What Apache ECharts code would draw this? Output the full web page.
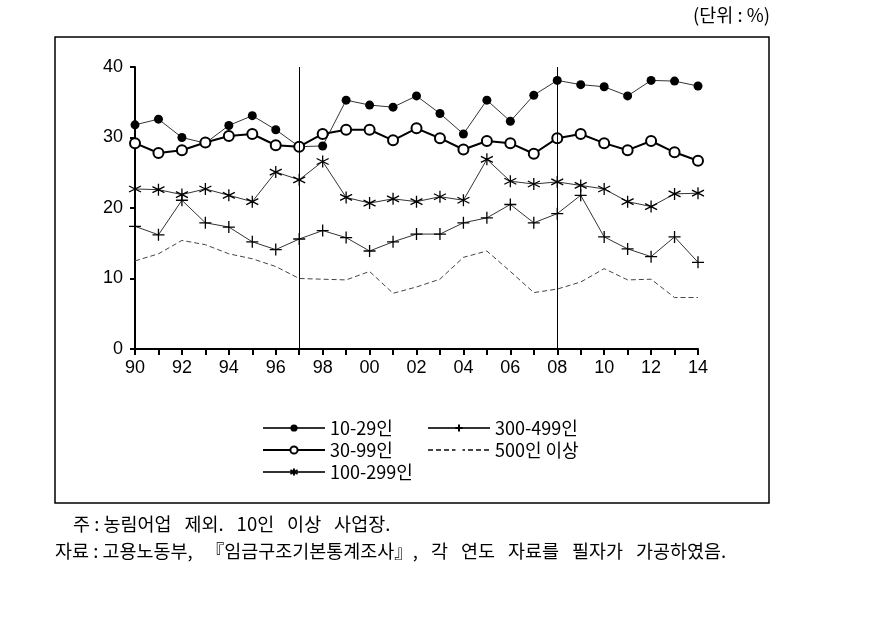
<!DOCTYPE html>
<html>
<head>
<meta charset="utf-8">
<script src="https://cdn.jsdelivr.net/npm/echarts@6/dist/echarts.min.js"></script>
<style>
  html, body { margin: 0; padding: 0; background: #fff; }
  #chart { width: 895px; height: 620px; }
</style>
</head>
<body>
<div id="chart"></div>
<script>
// 연도 (1990 ~ 2014)
var years = ['1990','1991','1992','1993','1994','1995','1996','1997','1998','1999','2000','2001','2002',
             '2003','2004','2005','2006','2007','2008','2009','2010','2011','2012','2013','2014']
var s10_29   = [31.8,32.6,30.0,29.2,31.7,33.1,31.1,28.7,28.8,35.3,34.6,34.3,35.9,33.4,30.5,35.3,32.3,36.0,38.1,37.5,37.2,35.9,38.1,38.0,37.3]
var s30_99   = [29.2,27.8,28.2,29.3,30.2,30.5,28.9,28.7,30.5,31.1,31.1,29.6,31.3,29.9,28.3,29.5,29.2,27.7,29.9,30.5,29.2,28.2,29.5,27.9,26.7]
var s100_299 = [22.7,22.6,21.9,22.7,21.8,20.9,25.1,24.0,26.6,21.5,20.7,21.3,20.9,21.6,21.1,26.9,23.8,23.4,23.7,23.2,22.7,20.9,20.2,22.0,22.1]
var s300_499 = [17.4,16.2,21.1,17.9,17.3,15.2,14.1,15.6,16.8,15.8,13.9,15.2,16.3,16.3,17.9,18.6,20.5,17.9,19.2,21.8,15.9,14.2,13.1,15.9,12.3]
var s500     = [12.5,13.5,15.4,14.8,13.5,12.8,11.7,10.0,9.9,9.8,11.0,7.9,8.8,9.9,13.0,13.9,11.0,8.0,8.5,9.5,11.4,9.8,9.9,7.3,7.3]
var markYears = ['1997','2008']

var asterisk = 'path://M5,0L5,10M0.67,2.5L9.33,7.5M0.67,7.5L9.33,2.5'
var plus = 'path://M5,0L5,10M0,5L10,5'

// 넓은 띄어쓰기 (원본 명조체 간격 흉내)
var sp = '\u2002\u2009'
var note1 = '주 : 농림어업' + sp + '제외.' + sp + '10인' + sp + '이상' + sp + '사업장.'
var note2 = '자료 : 고용노동부,' + sp + '『임금구조기본통계조사』,' + sp + '각' + sp + '연도' + sp + '자료를' + sp + '필자가' + sp + '가공하였음.'

var myChart = echarts.init(document.getElementById('chart'))
var legendText = { fontFamily: 'Noto Sans CJK KR', fontSize: 18, color: '#000' }
var noteFont = '18.5px "Noto Sans CJK KR"'

myChart.setOption({
  animation: false,
  grid: { left: 135, top: 67, right: 197, bottom: 271 },
  graphic: [
    { type: 'rect', shape: { x: 55, y: 37, width: 714, height: 466 },
      style: { fill: 'none', stroke: '#000', lineWidth: 1.5 } },
    { type: 'text', x: 770, y: 15,
      style: { text: '(단위 : %)', font: noteFont, fill: '#000', align: 'right', verticalAlign: 'middle' } },
    { type: 'text', x: 73, y: 524,
      style: { text: note1, font: noteFont, fill: '#000', verticalAlign: 'middle' } },
    { type: 'text', x: 55, y: 551,
      style: { text: note2, font: noteFont, fill: '#000', verticalAlign: 'middle' } }
  ],
  legend: [
    { orient: 'vertical', left: 257, top: 414, itemWidth: 62, itemHeight: 9, itemGap: 4,
      textStyle: legendText, data: ['10-29인','30-99인','100-299인'] },
    { orient: 'vertical', left: 422, top: 414, itemWidth: 62, itemHeight: 9, itemGap: 4,
      textStyle: legendText, data: ['300-499인','500인 이상'] }
  ],
  xAxis: {
    type: 'category',
    boundaryGap: false,
    data: years,
    axisLine: { lineStyle: { color: '#000', width: 2 } },
    axisTick: { interval: 0, length: 6, lineStyle: { color: '#000', width: 2 } },
    axisLabel: {
      interval: 1, margin: 10, color: '#000', fontFamily: 'Liberation Sans', fontSize: 18,
      formatter: function (v) { return v.slice(2) }
    },
    splitLine: { show: false }
  },
  yAxis: {
    type: 'value', min: 0, max: 40, interval: 10,
    axisLine: { show: true, lineStyle: { color: '#000', width: 2 } },
    axisTick: { show: true, length: 5, lineStyle: { color: '#000', width: 2 } },
    axisLabel: { margin: 12, color: '#000', fontFamily: 'Liberation Sans', fontSize: 18 },
    splitLine: { show: false }
  },
  series: [
    {
      name: '10-29인', type: 'line', data: s10_29,
      symbol: 'circle', symbolSize: 9,
      itemStyle: { color: '#000' },
      lineStyle: { color: '#333', width: 1 },
      markLine: {
        silent: true, symbol: 'none', label: { show: false },
        lineStyle: { color: '#000', width: 1, type: 'solid' },
        data: markYears.map(function (y) { return { xAxis: y } })
      }
    },
    {
      name: '30-99인', type: 'line', data: s30_99,
      symbol: 'emptyCircle', symbolSize: 10,
      itemStyle: { color: '#000', borderWidth: 1.8 },
      lineStyle: { color: '#000', width: 2 }
    },
    {
      name: '100-299인', type: 'line', data: s100_299,
      symbol: asterisk, symbolSize: 12,
      itemStyle: { color: '#000', borderColor: '#000', borderWidth: 1.3 },
      lineStyle: { color: '#333', width: 1 }
    },
    {
      name: '300-499인', type: 'line', data: s300_499,
      symbol: plus, symbolSize: 12,
      itemStyle: { color: '#000', borderColor: '#000', borderWidth: 1.3 },
      lineStyle: { color: '#333', width: 1 }
    },
    {
      name: '500인 이상', type: 'line', data: s500,
      showSymbol: false,
      itemStyle: { color: 'rgba(0,0,0,0)' },
      lineStyle: { color: '#444', width: 1, type: [5, 3] }
    }
  ]
})
</script>
</body>
</html>
